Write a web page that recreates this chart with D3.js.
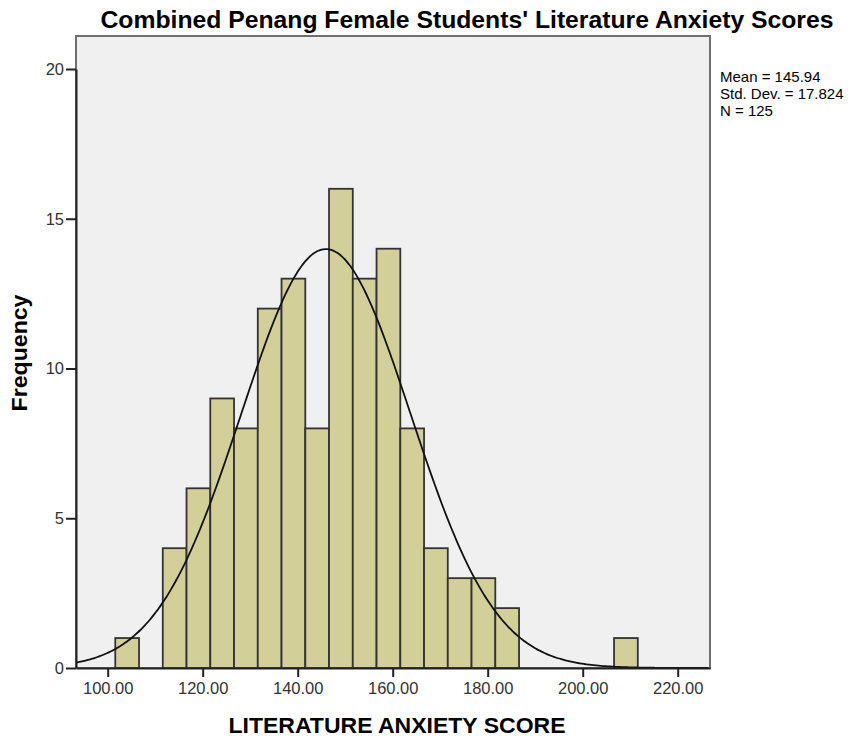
<!DOCTYPE html>
<html>
<head>
<meta charset="utf-8">
<script src="https://cdn.jsdelivr.net/npm/d3@7"></script>
<style>
  body { margin:0; background:#fff; }
  text { font-family: Arial, "Liberation Sans", sans-serif; }
</style>
</head>
<body>
<script>
// histogram bins (lower edge, width 5) and counts
const binStart = 101.6
const binWidth = 5
const counts = [1,0,4,6,9,8,12,13,8,16,13,14,8,4,3,3,2,0,0,0,0,1]
const xTicks = [100,120,140,160,180,200,220]
const yTicks = [0,5,10,15,20]
const stats = ["Mean = 145.94","Std. Dev. = 17.824","N = 125"]
const mean = 145.94
const sd = 17.824
const n = 125

const width = 862
const height = 740
const margin = {top:36, right:152, bottom:72, left:76}

const svg = d3.select("body").append("svg")
  .attr("width", width)
  .attr("height", height)

const x = d3.scaleLinear().domain([93.33, 226.8]).range([margin.left, width - margin.right])
const y = d3.scaleLinear().domain([0, 20]).range([height - margin.bottom, 69])

const bins = counts.map((c, i) => ({x0: binStart + i*binWidth, x1: binStart + (i+1)*binWidth, c}))

// plot background + frame
svg.append("rect")
  .attr("x", margin.left).attr("y", margin.top)
  .attr("width", width - margin.right - margin.left)
  .attr("height", height - margin.bottom - margin.top)
  .attr("fill", "#f0f0f0")
  .attr("stroke", "#6f6f6f")
  .attr("stroke-width", 2)

svg.selectAll("rect.bar")
  .data(bins.filter(d => d.c > 0))
  .enter()
  .append("rect")
  .attr("class", "bar")
  .attr("x", d => x(d.x0))
  .attr("y", d => y(d.c))
  .attr("width", d => x(d.x1) - x(d.x0))
  .attr("height", d => y(0) - y(d.c))
  .attr("fill", "#d3cf98")
  .attr("stroke", "#333")
  .attr("stroke-width", 1.8)

// normal curve scaled to counts
const pts = d3.range(93.33, 226.8, 0.5).map(v => [v, n*binWidth*Math.exp(-0.5*((v-mean)/sd)**2)/(sd*Math.sqrt(2*Math.PI))])
svg.append("path")
  .attr("d", d3.line().x(d => x(d[0])).y(d => y(d[1])).curve(d3.curveBasis)(pts))
  .attr("fill", "none")
  .attr("stroke", "#111")
  .attr("stroke-width", 1.8)

// axes
const xAxis = svg.append("g")
  .attr("transform", `translate(0,${y(0)})`)
  .call(d3.axisBottom(x).tickValues(xTicks).tickSize(9).tickSizeOuter(0).tickFormat(d3.format(".2f")))
xAxis.select(".domain").attr("stroke", "#222").attr("stroke-width", 2)
xAxis.selectAll(".tick line").attr("stroke", "#222").attr("stroke-width", 2)
xAxis.selectAll("text").attr("font-size", 16.5).attr("fill", "#333").attr("y", 14).attr("dy", "0.71em")

const yAxis = svg.append("g")
  .attr("transform", `translate(${margin.left},0)`)
  .call(d3.axisLeft(y).tickValues(yTicks).tickSize(10).tickSizeOuter(0))
yAxis.select(".domain").attr("stroke", "#222").attr("stroke-width", 2)
yAxis.selectAll(".tick line").attr("stroke", "#222").attr("stroke-width", 2)
yAxis.selectAll("text").attr("font-size", 16.5).attr("fill", "#333").attr("x", -12)

svg.append("text")
  .text("Combined Penang Female Students' Literature Anxiety Scores")
  .attr("x", 467).attr("y", 28)
  .attr("text-anchor", "middle")
  .attr("font-size", 23)
  .attr("font-weight", "bold")
  .attr("textLength", 733)
  .attr("lengthAdjust", "spacingAndGlyphs")

svg.append("text")
  .text("LITERATURE ANXIETY SCORE")
  .attr("x", 397).attr("y", 733)
  .attr("text-anchor", "middle")
  .attr("font-size", 22)
  .attr("font-weight", "bold")
  .attr("textLength", 337)
  .attr("lengthAdjust", "spacingAndGlyphs")

svg.append("text")
  .text("Frequency")
  .attr("transform", "translate(27,353) rotate(-90)")
  .attr("text-anchor", "middle")
  .attr("font-size", 22)
  .attr("font-weight", "bold")
  .attr("textLength", 117)
  .attr("lengthAdjust", "spacingAndGlyphs")

svg.selectAll("text.stat")
  .data(stats)
  .enter()
  .append("text")
  .attr("class", "stat")
  .attr("x", 720)
  .attr("y", (d, i) => 82 + i*17)
  .attr("font-size", 15)
  .text(d => d)
</script>
</body>
</html>
